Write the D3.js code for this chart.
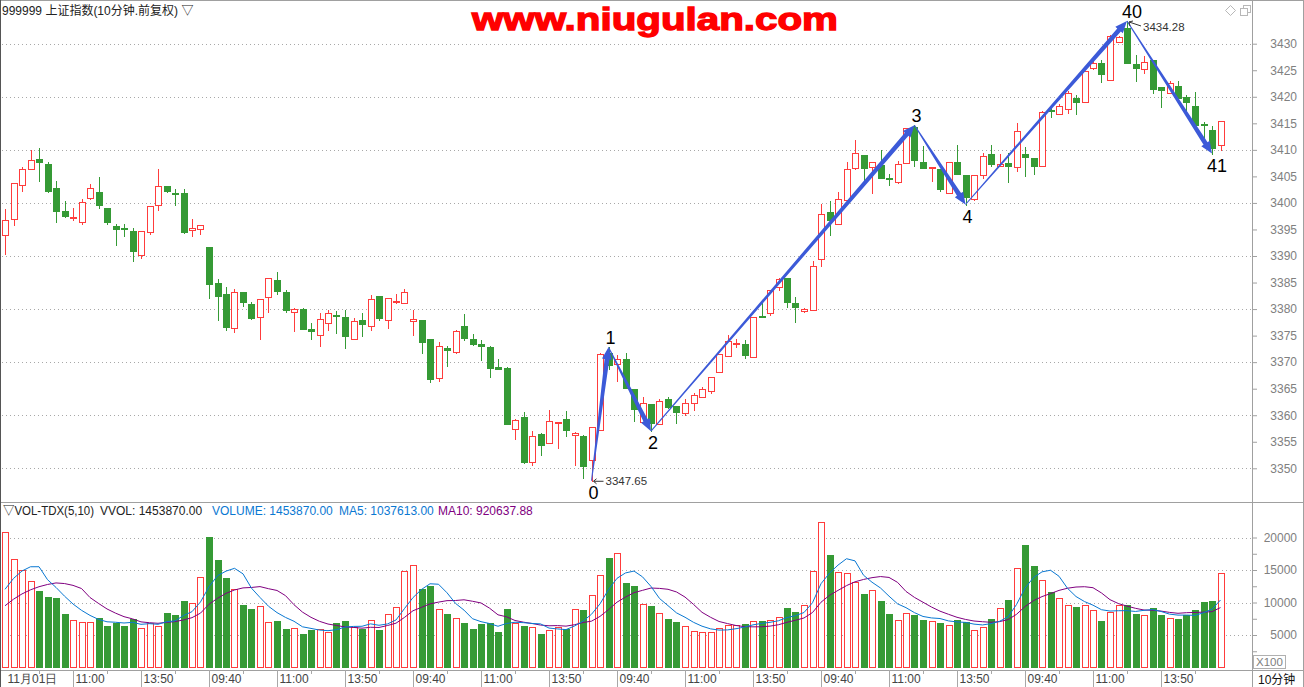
<!DOCTYPE html>
<html><head><meta charset="utf-8">
<script src="https://cdn.jsdelivr.net/npm/d3@7"></script>
<style>
body{margin:0;background:#fff;}
svg{display:block;font-family:"Liberation Sans",Arial,"Noto Sans CJK SC",sans-serif;}
</style></head><body>
<svg id="c" width="1304" height="687"></svg>
<script>
// ---------- data (10-minute bars) ----------
const opens=[3394.0,3397.0,3403.4,3406.4,3408.2,3407.4,3402.9,3398.4,3397.1,3396.4,3400.9,3402.1,3399.1,3395.7,3395.3,3394.8,3390.1,3394.5,3399.6,3403.2,3401.95,3401.9,3394.9,3395.1,
3391.7,3384.9,3382.9,3376.4,3383.25,3381.0,3378.6,3382.25,3385.5,3383.25,3379.4,3380.1,3376.3,3375.1,3377.4,3378.9,3378.5,3374.4,3378.0,3376.9,3382.5,3377.9,3381.25,3381.1,
3377.75,3377.9,3374.3,3367.1,3372.6,3371.9,3376.75,3374.3,3373.4,3372.8,3369.0,3368.9,3357.4,3359.7,3351.1,3356.5,3354.75,3358.6,3359.3,3356.2,3356.1,3351.6,3357.25,3371.8,
3369.6,3370.6,3365.0,3358.8,3362.1,3358.4,3363.0,3361.8,3360.4,3362.3,3363.4,3364.5,3368.1,3371.1,3373.5,3373.5,3371.0,3378.75,3379.25,3384.1,3385.8,3381.1,3379.6,3379.9,
3389.4,3398.3,3396.0,3400.6,3406.6,3409.1,3406.8,3407.2,3404.7,3403.96,3407.5,3414.3,3407.8,3406.5,3406.3,3401.9,3407.7,3405.2,3400.75,3405.2,3409.3,3407.0,3407.6,3406.8,
3409.3,3408.5,3406.9,3417.6,3416.75,3417.7,3419.8,3419.1,3425.4,3426.4,3423.2,3430.3,3432.95,3426.2,3425.3,3427.0,3421.8,3420.7,3422.1,3420.0,3418.3,3414.9,3413.8,3410.9];
const highs=[3398.9,3403.8,3406.8,3409.9,3410.3,3407.8,3404.2,3400.3,3399.1,3400.8,3403.6,3404.8,3399.1,3396.1,3396.1,3395.3,3394.8,3399.4,3406.4,3403.2,3402.6,3402.6,3396.9,3395.8,
3391.7,3385.7,3384.25,3383.75,3383.25,3381.4,3381.9,3385.8,3387.0,3383.6,3380.25,3380.2,3377.4,3379.25,3379.8,3379.7,3379.9,3378.3,3379.3,3382.6,3382.5,3382.1,3382.9,3383.8,
3379.9,3377.9,3374.3,3373.75,3373.0,3376.1,3379.1,3375.3,3374.1,3373.1,3370.6,3369.1,3359.3,3360.7,3357.1,3356.7,3361.0,3358.8,3360.75,3356.9,3356.3,3357.75,3371.75,3372.8,
3371.4,3371.7,3365.0,3363.5,3362.1,3363.1,3363.5,3361.8,3363.1,3364.2,3365.4,3367.2,3371.5,3375.2,3374.3,3374.25,3378.5,3381.75,3383.6,3385.9,3385.8,3382.25,3380.2,3389.1,
3399.8,3400.4,3402.1,3407.8,3411.9,3409.1,3407.7,3409.9,3405.5,3407.9,3414.15,3414.65,3410.7,3406.8,3406.3,3407.7,3410.9,3405.2,3405.2,3409.4,3411.0,3409.3,3409.4,3415.0,
3410.5,3408.5,3417.4,3418.3,3418.6,3421.1,3420.4,3424.9,3426.7,3427.0,3431.7,3431.5,3434.28,3427.8,3427.6,3427.0,3421.8,3422.9,3422.9,3420.4,3420.9,3415.2,3414.4,3415.4];
const lows=[3390.3,3395.8,3402.2,3406.4,3404.1,3402.0,3396.5,3397.3,3396.8,3396.0,3400.7,3399.0,3396.0,3392.0,3393.7,3389.0,3389.7,3394.2,3398.7,3402.0,3399.6,3394.3,3393.7,3394.15,
3382.1,3378.0,3376.0,3375.6,3380.5,3378.1,3374.3,3379.4,3382.9,3379.4,3375.8,3376.2,3374.3,3373.0,3376.1,3375.4,3372.6,3374.4,3374.9,3376.0,3377.9,3376.4,3381.1,3381.1,
3375.1,3371.75,3366.3,3366.5,3369.3,3371.75,3374.1,3373.25,3370.4,3367.25,3368.7,3358.4,3355.6,3351.0,3350.6,3352.6,3354.75,3353.9,3356.0,3350.6,3348.1,3347.65,3357.25,3368.7,
3366.4,3365.2,3358.9,3358.8,3357.0,3358.4,3361.3,3358.5,3360.1,3361.0,3363.4,3364.15,3368.1,3371.1,3372.8,3370.8,3371.0,3378.5,3378.9,3383.5,3380.4,3377.5,3379.4,3379.9,
3388.05,3394.0,3396.0,3400.6,3406.4,3404.4,3401.9,3404.7,3403.4,3403.8,3407.5,3406.9,3406.5,3404.1,3402.2,3401.9,3405.4,3399.7,3400.6,3404.7,3406.9,3406.9,3403.9,3406.1,
3405.0,3405.5,3406.9,3416.2,3416.75,3416.9,3416.8,3419.1,3425.2,3422.7,3423.2,3430.3,3426.4,3423.0,3424.5,3420.7,3418.0,3420.7,3419.8,3417.6,3414.6,3410.7,3409.3,3410.0];
const closes=[3396.8,3403.8,3406.4,3408.1,3407.7,3402.3,3398.4,3397.5,3397.3,3400.2,3402.8,3399.6,3396.4,3395.0,3395.0,3390.9,3394.8,3399.4,3403.2,3402.2,3401.7,3394.5,3395.3,3395.8,
3384.8,3382.4,3376.6,3383.2,3381.25,3378.4,3381.9,3385.8,3383.4,3379.75,3380.0,3376.2,3375.9,3378.1,3379.25,3378.75,3374.9,3377.8,3377.1,3381.9,3378.4,3382.1,3381.6,3383.25,
3378.1,3373.8,3366.8,3373.1,3372.3,3375.9,3374.6,3373.4,3373.1,3368.9,3368.7,3358.4,3359.1,3351.1,3356.1,3354.3,3358.9,3358.8,3357.2,3356.6,3350.4,3357.75,3371.6,3369.5,
3370.6,3365.2,3361.1,3362.3,3358.5,3362.6,3361.5,3360.7,3362.3,3363.8,3364.9,3367.2,3371.5,3374.0,3373.7,3371.4,3378.5,3378.6,3383.6,3385.6,3381.25,3380.3,3380.0,3388.1,
3397.9,3396.85,3400.75,3406.4,3409.4,3406.5,3407.7,3404.7,3404.6,3407.4,3414.15,3408.05,3406.5,3406.8,3402.6,3407.7,3405.4,3401.1,3405.2,3408.9,3407.4,3407.4,3406.9,3413.6,
3408.6,3406.9,3417.2,3417.3,3418.2,3420.7,3419.1,3424.9,3426.4,3424.3,3431.5,3431.2,3426.4,3425.35,3426.5,3421.4,3421.2,3422.6,3419.8,3419.0,3414.6,3414.6,3410.4,3415.4];
// volume in units of 100 (X100)
const volumes=[20800,16650,14950,13300,11820,10850,10690,8230,7260,6950,6950,7615,6385,6900,6385,7460,6080,6900,6385,8385,8080,10230,9870,13870,
20080,16540,13770,12030,9615,9050,9410,7000,7150,5920,6080,5150,5770,5870,5460,6850,7150,6280,5970,7310,5770,8180,9310,14800,
15720,12030,12540,8950,8230,7570,6850,5920,6690,6800,5460,9000,6850,6385,6180,5150,5770,6180,5870,8950,8850,11100,14180,16850,
17620,13000,12540,9720,9460,8385,7460,7000,6340,5570,5415,5415,6030,6490,6490,6690,7100,7150,7310,7720,9150,8540,9570,14850,
22340,17310,14690,14490,13200,11310,11920,10230,8230,7310,8330,8080,7310,7100,6850,6490,7310,6950,5770,6230,7460,9100,10380,15260,
18850,15620,13460,11620,10640,9570,9310,9570,8850,7150,8540,9570,9615,8230,8030,9150,8080,7570,7460,8080,8900,10100,10300,14539];
// volumes of the 9 bars before the window (inferred from where the MA lines start)
const prevVolumes=[6600,6800,7000,7050,7400,8300,9200,10050,11800];
const timeLabels=["11月01日","11:00","13:50","09:40","11:00","13:50","09:40","11:00","13:50","09:40","11:00","13:50","09:40","11:00","13:50","09:40","11:00","13:50"];
const priceTicks=d3.range(3350,3431,5);
const priceGrid=d3.range(3350,3431,10);
const volumeTicks=d3.range(2500,20001,2500);
const volumeGrid=[5000,10000,15000,20000];
const waveLabels=["0","1","2","3","4","40","41"];
const waveBars=[69,71,76,107,113,132,142];
const wavePrices=[3347.65,3372.8,3357.0,3414.65,3399.7,3434.28,3409.3];

// ---------- drawing ----------
const svg=d3.select("#c");
const W=1304,H=687,PR=1252;
const RED="#ff3c3c",GREEN="#359a35",BLUE="#0a78d2",PURPLE="#800080",ARROW="#3c5ad8";
const xs=d3.scaleLinear().domain([0,143]).range([5,1220.5]);
const ys=d3.scaleLinear().domain([3350,3430]).range([468.3,43.7]);
const vs=d3.scaleLinear().domain([0,20000]).range([667.5,537.5]);
const idx=d3.range(opens.length);
const cx=i=>Math.round(xs(i));
const up=i=>closes[i]>opens[i];

svg.append("rect").attr("width",W).attr("height",H).attr("fill","#fff");
const defs=svg.append("defs");
defs.append("clipPath").attr("id","cp").append("rect").attr("x",1).attr("y",1).attr("width",PR-1).attr("height",500);
defs.append("clipPath").attr("id","cv").append("rect").attr("x",1).attr("y",503).attr("width",PR-1).attr("height",167);

// grids
const grid=svg.append("g").attr("stroke","#a8a8a8").attr("stroke-dasharray","1,3");
grid.selectAll("line.pg").data(priceGrid).join("line").attr("class","pg")
  .attr("x1",2).attr("x2",PR).attr("y1",d=>Math.round(ys(d))+0.5).attr("y2",d=>Math.round(ys(d))+0.5);
grid.selectAll("line.vg").data(volumeGrid).join("line").attr("class","vg")
  .attr("x1",2).attr("x2",PR).attr("y1",d=>Math.round(vs(d))+0.5).attr("y2",d=>Math.round(vs(d))+0.5);

// frame
const fr=svg.append("g").attr("stroke","#a0a0a0").attr("shape-rendering","crispEdges");
fr.append("line").attr("x1",0).attr("x2",W).attr("y1",0.5).attr("y2",0.5);
fr.append("line").attr("x1",0).attr("x2",W).attr("y1",502.5).attr("y2",502.5);
fr.append("line").attr("x1",0).attr("x2",W).attr("y1",670.5).attr("y2",670.5);
fr.append("line").attr("x1",PR+0.5).attr("x2",PR+0.5).attr("y1",0).attr("y2",H);
fr.append("line").attr("x1",W-0.5).attr("x2",W-0.5).attr("y1",0).attr("y2",H);
fr.append("line").attr("x1",0.5).attr("x2",0.5).attr("y1",0).attr("y2",H).attr("stroke","#555");

// candles
const cg=svg.append("g").attr("clip-path","url(#cp)").attr("shape-rendering","crispEdges");
cg.selectAll("line").data(idx).join("line")
  .attr("x1",i=>cx(i)+0.5).attr("x2",i=>cx(i)+0.5)
  .attr("y1",i=>Math.round(ys(highs[i]))).attr("y2",i=>Math.round(ys(lows[i]))+1)
  .attr("stroke",i=>up(i)?RED:GREEN);
cg.selectAll("rect").data(idx).join("rect").each(function(i){
  const t=Math.round(ys(Math.max(opens[i],closes[i])));
  let b=Math.round(ys(Math.min(opens[i],closes[i])));
  if(b-t<1) b=t+1;
  const s=d3.select(this);
  if(up(i)) s.attr("x",cx(i)-2.5).attr("y",t+0.5).attr("width",6).attr("height",b-t).attr("fill","#fff").attr("stroke",RED);
  else s.attr("x",cx(i)-3).attr("y",t).attr("width",7).attr("height",b-t+1).attr("fill",GREEN);
});

// volume bars
const vg=svg.append("g").attr("clip-path","url(#cv)").attr("shape-rendering","crispEdges");
vg.selectAll("rect").data(idx).join("rect").each(function(i){
  const t=Math.round(vs(volumes[i])), b=Math.round(vs(0));
  const s=d3.select(this);
  if(up(i)) s.attr("x",cx(i)-2.5).attr("y",t+0.5).attr("width",6).attr("height",b-t-1).attr("fill","#fff").attr("stroke",RED);
  else s.attr("x",cx(i)-3).attr("y",t).attr("width",7).attr("height",b-t).attr("fill",GREEN);
});
// moving averages
const all=prevVolumes.concat(volumes), off=prevVolumes.length;
const ma=n=>idx.map(i=>d3.mean(all.slice(i+off-n+1,i+off+1)));
const line=d3.line().x((d,i)=>xs(i)).y(d=>vs(d));
const mg=svg.append("g").attr("clip-path","url(#cv)").attr("fill","none").attr("stroke-width",1);
mg.append("path").attr("d",line(ma(10))).attr("stroke",PURPLE);
mg.append("path").attr("d",line(ma(5))).attr("stroke",BLUE);

// price axis
const pa=svg.append("g").attr("transform",`translate(${PR},0)`)
  .call(d3.axisRight(ys).tickValues(priceTicks).tickSize(5).tickFormat(d3.format("d")));
pa.select(".domain").remove();
pa.selectAll("line").attr("stroke","#a0a0a0");
pa.selectAll("text").attr("x",45).attr("text-anchor","end").attr("fill","#808080").style("font-size","12px");
// volume axis
const va=svg.append("g").attr("transform",`translate(${PR},0)`)
  .call(d3.axisRight(vs).tickValues(volumeTicks).tickSize(5).tickFormat(d=>d%5000===0?d:""));
va.select(".domain").remove();
va.selectAll("line").attr("stroke","#a0a0a0");
va.selectAll("text").attr("x",45).attr("text-anchor","end").attr("fill","#808080").style("font-size","12px");
svg.append("rect").attr("x",1253.5).attr("y",655.5).attr("width",32).attr("height",13).attr("fill","#fff").attr("stroke","#b0b0b0");
svg.append("text").attr("x",1256).attr("y",666).attr("fill","#808080").style("font-size","11.5px").text("X100");

// time axis
const majors=d3.range(0,opens.length,8), minors=d3.range(4,opens.length,8);
const ta=svg.append("g").attr("transform","translate(0,670)")
  .call(d3.axisBottom(xs).tickValues(majors).tickSize(17).tickFormat((d,i)=>timeLabels[i]));
ta.select(".domain").remove();
ta.selectAll("line").attr("stroke","#a8a8a8");
ta.selectAll(".tick").filter(d=>d===0).select("line").remove();
ta.selectAll("text").attr("text-anchor","start").attr("x",2).attr("y",9).attr("dy","0.36em").attr("fill","#444").style("font-size","12px");
const tm=svg.append("g").attr("transform","translate(0,670)")
  .call(d3.axisBottom(xs).tickValues(minors).tickSize(4).tickFormat(""));
tm.select(".domain").remove();
tm.selectAll("line").attr("stroke","#a8a8a8");
svg.append("text").attr("x",1258).attr("y",683.5).attr("fill","#111").style("font-size","12px").text("10分钟");

// wave arrows
const pts=waveBars.map((b,k)=>[xs(b),ys(wavePrices[k])]);
const ag=svg.append("g").attr("clip-path","url(#cp)");
for(let k=0;k<pts.length-1;k++){
  const [x0,y0]=pts[k],[x1,y1]=pts[k+1];
  const dx=x1-x0,dy=y1-y0,L=Math.hypot(dx,dy),ux=dx/L,uy=dy/L,nx=-uy,ny=ux;
  const hl=Math.min(12,L*0.3),bx=x1-ux*hl,by=y1-uy*hl;
  const P=(x,y,w)=>[x+nx*w,y+ny*w];
  const poly=[P(x0,y0,0.5),P(bx,by,2.4),P(bx,by,5),[x1,y1],P(bx,by,-5),P(bx,by,-2.4),P(x0,y0,-0.5)];
  ag.append("polygon").attr("points",poly.map(p=>p.join(",")).join(" ")).attr("fill",ARROW);
}
const lg=svg.append("g").attr("fill","#000").attr("text-anchor","middle").style("font-size","18px");
pts.forEach((p,k)=>{
  const ref=k<pts.length-1?wavePrices[k+1]:wavePrices[k-1];
  const isLow=wavePrices[k]<ref;
  lg.append("text").attr("x",p[0]+2+(waveLabels[k].length-1)*3).attr("y",isLow?p[1]+18:p[1]-3).text(waveLabels[k]);
});

// extreme markers
const lo=d3.minIndex(lows), hi=d3.maxIndex(highs);
const mk=svg.append("g").attr("stroke","#333").attr("fill","none");
const lx=xs(lo),ly=ys(lows[lo]);
mk.append("path").attr("d",`M${lx+2},${ly+0.5}H${lx+12}M${lx+2},${ly+0.5}l3,-2.5M${lx+2},${ly+0.5}l3,2.5`);
svg.append("text").attr("x",lx+14).attr("y",ly+4.5).attr("fill","#333").style("font-size","11.5px").text(d3.format(".2f")(lows[lo]));
const hx=xs(hi),hy=ys(highs[hi]);
mk.append("path").attr("d",`M${hx+2},${hy+1}L${hx+14},${hy+5}M${hx+2},${hy+1}l1,4M${hx+2},${hy+1}l4,-1`);
svg.append("text").attr("x",hx+16).attr("y",hy+10).attr("fill","#333").style("font-size","11.5px").text(d3.format(".2f")(highs[hi]));

// header & watermark
svg.append("text").attr("x",2).attr("y",14.5).attr("fill","#222").style("font-size","12px").text("999999 上证指数(10分钟.前复权) ▽");
svg.append("text").attr("x",472).attr("y",30).attr("fill","#ff0000").attr("stroke","#ff0000").attr("stroke-width",1.3)
  .attr("textLength",366).attr("lengthAdjust","spacingAndGlyphs")
  .style("font-size","31px").style("font-weight","bold").text("www.niugulan.com");
const ic=svg.append("g").attr("fill","none").attr("stroke","#b8b8b8");
ic.append("path").attr("d","M1230.5,5.5l5,5l-5,5l-5,-5z");
ic.append("rect").attr("x",1243.5).attr("y",5.5).attr("width",7).attr("height",7);
ic.append("rect").attr("x",1240.5).attr("y",8.5).attr("width",7).attr("height",7).attr("fill","#fff");

// volume legend
const leg=svg.append("g").style("font-size","12px");
leg.append("text").attr("x",3).attr("y",515).attr("fill","#222").attr("textLength",91).attr("lengthAdjust","spacingAndGlyphs").text("▽VOL-TDX(5,10)");
leg.append("text").attr("x",100).attr("y",515).attr("fill","#222").text("VVOL: 1453870.00");
leg.append("text").attr("x",212).attr("y",515).attr("fill",BLUE).text("VOLUME: 1453870.00");
leg.append("text").attr("x",339).attr("y",515).attr("fill",BLUE).text("MA5: 1037613.00");
leg.append("text").attr("x",438).attr("y",515).attr("fill",PURPLE).text("MA10: 920637.88");
</script>
</body></html>
